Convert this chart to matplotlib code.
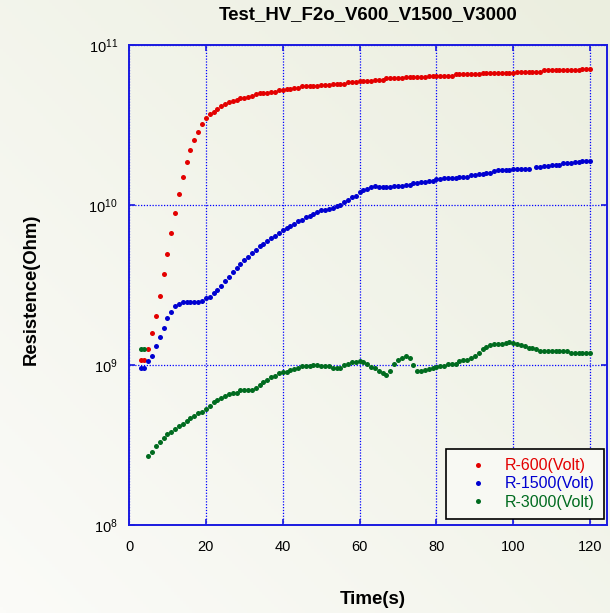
import matplotlib
matplotlib.use("Agg")
import matplotlib.pyplot as plt
import numpy as np
from matplotlib.colors import LinearSegmentedColormap
from matplotlib.ticker import FixedLocator, NullLocator

plt.rcParams["font.family"] = ["Liberation Sans", "DejaVu Sans"]
plt.rcParams["mathtext.fontset"] = "custom"
plt.rcParams["mathtext.rm"] = "Liberation Sans"
plt.rcParams["mathtext.it"] = "Liberation Sans:italic"
plt.rcParams["mathtext.bf"] = "Liberation Sans:bold"

# sample times (s), one reading per second
time_s = list(range(3, 121))

# resistance in GOhm
r600 = [
    1.07, 1.07, 1.26, 1.58, 2.03, 2.71, 3.69, 4.92, 6.68, 8.91,
    11.7, 15.0, 18.5, 22.0, 25.6, 28.7, 32.2, 34.8, 36.9, 38.3,
    39.8, 41.4, 43.0, 43.9, 44.7, 45.5, 46.4, 46.4, 47.3, 48.2,
    49.2, 50.1, 50.1, 50.1, 51.1, 51.1, 52.1, 52.1, 53.1, 53.1,
    54.1, 54.1, 55.2, 55.2, 55.2, 55.2, 55.2, 56.2, 56.2, 56.2,
    57.3, 57.3, 57.3, 57.3, 58.4, 58.4, 58.4, 59.6, 59.6, 59.6,
    59.6, 60.7, 60.7, 60.7, 61.9, 61.9, 61.9, 61.9, 61.9, 63.1,
    63.1, 63.1, 63.1, 63.1, 63.1, 64.3, 64.3, 64.3, 64.3, 64.3,
    64.3, 64.3, 65.6, 65.6, 65.6, 65.6, 65.6, 65.6, 65.6, 66.8,
    66.8, 66.8, 66.8, 66.8, 66.8, 66.8, 66.8, 66.8, 68.1, 68.1,
    68.1, 68.1, 68.1, 68.1, 68.1, 69.5, 69.5, 69.5, 69.5, 69.5,
    69.5, 69.5, 69.5, 69.5, 69.5, 70.8, 70.8, 70.8,
]

r1500 = [
    0.96, 0.96, 1.06, 1.14, 1.31, 1.50, 1.71, 1.96, 2.15, 2.33,
    2.42, 2.47, 2.47, 2.47, 2.47, 2.47, 2.51, 2.61, 2.66, 2.82,
    2.93, 3.10, 3.35, 3.55, 3.83, 4.06, 4.30, 4.55, 4.73, 5.01,
    5.21, 5.52, 5.73, 5.96, 6.19, 6.43, 6.68, 6.95, 7.21, 7.36,
    7.64, 7.94, 8.10, 8.41, 8.58, 8.74, 9.08, 9.26, 9.26, 9.44,
    9.62, 9.81, 10.0, 10.4, 10.8, 11.2, 11.4, 12.1, 12.4, 12.6,
    12.9, 13.1, 12.9, 12.9, 12.9, 12.9, 13.1, 13.1, 13.1, 13.4,
    13.4, 13.7, 13.7, 13.9, 13.9, 14.2, 14.2, 14.5, 14.5, 14.8,
    14.8, 14.8, 14.8, 15.0, 15.0, 15.0, 15.3, 15.3, 15.6, 15.6,
    15.9, 15.9, 16.3, 16.6, 16.6, 16.6, 16.6, 16.9, 16.9, 16.9,
    16.9, 16.9, np.nan, 17.2, 17.2, 17.5, 17.5, 17.9, 17.9, 17.9,
    18.2, 18.2, 18.2, 18.6, 18.6, 18.9, 18.9, 18.9,
]

r3000 = [
    1.26, 1.26, 0.271, 0.287, 0.310, 0.329, 0.348, 0.369, 0.383, 0.398,
    0.414, 0.430, 0.447, 0.464, 0.482, 0.501, 0.511, 0.531, 0.552, 0.584,
    0.607, 0.619, 0.643, 0.656, 0.668, 0.668, 0.695, 0.695, 0.695, 0.695,
    0.721, 0.750, 0.780, 0.810, 0.841, 0.858, 0.891, 0.908, 0.908, 0.926,
    0.944, 0.962, 0.981, 0.981, 0.981, 1.00, 1.00, 0.981, 0.981, 0.981,
    0.962, 0.962, 0.962, 1.00, 1.02, 1.04, 1.04, 1.06, 1.04, 1.02,
    0.972, 0.953, 0.922, 0.887, 0.870, 0.922, 1.01, 1.07, 1.11, 1.13,
    1.10, 1.00, 0.922, 0.922, 0.931, 0.949, 0.962, 0.977, 0.984, 0.991,
    1.01, 1.01, 1.01, 1.06, 1.07, 1.08, 1.10, 1.13, 1.19, 1.25,
    1.30, 1.34, 1.36, 1.36, 1.36, 1.38, 1.39, 1.37, 1.36, 1.34,
    1.31, 1.28, 1.27, 1.25, 1.23, 1.23, 1.22, 1.22, 1.22, 1.22,
    1.22, 1.22, 1.19, 1.19, 1.19, 1.19, 1.19, 1.19,
]

series = [
    ("R-600(Volt)", r600, "#e30000"),
    ("R-1500(Volt)", r1500, "#0000d0"),
    ("R-3000(Volt)", r3000, "#006b1f"),
]
x_ticks = [0, 20, 40, 60, 80, 100, 120]
y_ticks = [1e8, 1e9, 1e10, 1e11]

AXIS_BLUE = "#1a1ae0"

fig = plt.figure(figsize=(6.10, 6.13), dpi=100)

# pale gradient background
bg = fig.add_axes([0, 0, 1, 1], zorder=-10)
cmap = LinearSegmentedColormap.from_list("bg", ["#fbfbf8", "#ebeedf"])
gx, gy = np.meshgrid(np.linspace(0, 1, 200), np.linspace(0, 1, 200))
bg.imshow((gx + (1 - gy)) / 2, cmap=cmap, aspect="auto", origin="upper",
          extent=[0, 1, 0, 1])
bg.axis("off")

ax = fig.add_axes([0.2115, 0.1436, 0.7836, 0.7830])
ax.set_facecolor("none")

for label, vals, color in series:
    ax.plot(time_s, np.array(vals) * 1e9, linestyle="none", marker="o",
            markersize=3.6, markeredgewidth=0, color=color, label=label)

ax.set_yscale("log")
ax.set_xlim(0, 124.4)
ax.set_ylim(1e8, 1e11)
ax.xaxis.set_major_locator(FixedLocator(x_ticks))
ax.yaxis.set_major_locator(FixedLocator(y_ticks))
ax.yaxis.set_minor_locator(NullLocator())

ax.grid(True, color="#0000ff", linestyle=(0, (1, 1.3)), linewidth=0.9)
for sp in ax.spines.values():
    sp.set_color(AXIS_BLUE)
    sp.set_linewidth(1.4)
ax.tick_params(axis="both", direction="in", top=True, right=True,
               length=4, width=1.2, color=AXIS_BLUE, labelsize=10.5)
ax.tick_params(axis="x", pad=11)
ax.tick_params(axis="y", pad=8)

ax.text(0.5, 1.0625, "Test_HV_F2o_V600_V1500_V3000", transform=ax.transAxes,
        ha="center", va="center", fontsize=13.4, fontweight="bold")
ax.set_xlabel("Time(s)", fontsize=13.5, fontweight="bold")
ax.xaxis.set_label_coords(0.51, -0.138)
ax.set_ylabel("Resistence(Ohm)", fontsize=13.3, fontweight="bold")
ax.yaxis.set_label_coords(-0.186, 0.49)

leg = ax.legend(loc="lower right", bbox_to_anchor=(0.994, 0.012),
                borderaxespad=0, fancybox=False, edgecolor="black",
                facecolor="#f8f9f3", framealpha=1, fontsize=11.5,
                numpoints=1, markerscale=1.0, handlelength=2.8,
                handletextpad=0.3, borderpad=0.6, labelspacing=0.2,
                labelcolor="linecolor")
leg.get_frame().set_linewidth(1.2)

fig.savefig("out.png", dpi=100)
